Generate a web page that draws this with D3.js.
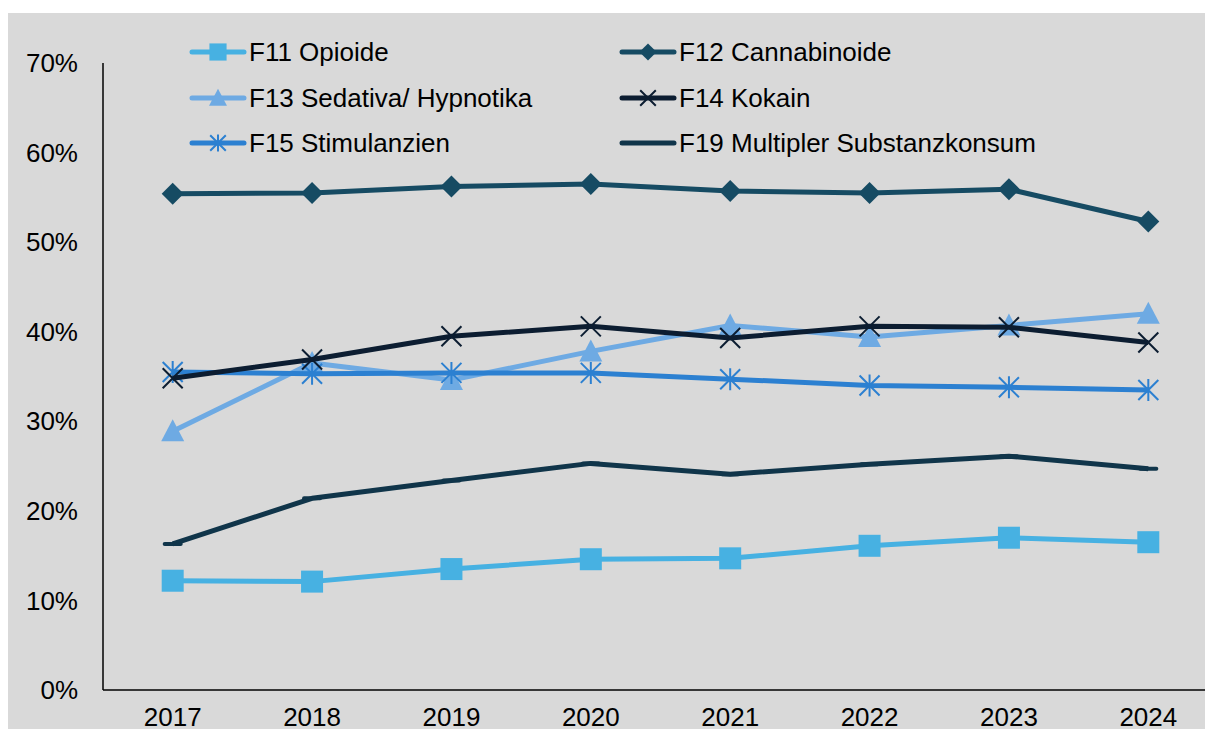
<!DOCTYPE html>
<html>
<head>
<meta charset="utf-8">
<script src="https://cdn.jsdelivr.net/npm/d3@7"></script>
<style>
  body { margin: 0; background: #fff; }
  svg text { font-family: "Liberation Sans", Arial, sans-serif; fill: #000; }
</style>
</head>
<body>
<div id="chart"></div>
<script>
var years = ["2017", "2018", "2019", "2020", "2021", "2022", "2023", "2024"];
var yTicks = [0, 10, 20, 30, 40, 50, 60, 70];

var f11 = [12.2, 12.1, 13.5, 14.6, 14.7, 16.1, 17.0, 16.5];
var f12 = [55.4, 55.5, 56.2, 56.5, 55.7, 55.5, 55.9, 52.3];
var f13 = [28.9, 36.5, 34.6, 37.8, 40.7, 39.4, 40.7, 42.0];
var f14 = [34.8, 36.9, 39.5, 40.6, 39.3, 40.6, 40.5, 38.8];
var f15 = [35.5, 35.3, 35.4, 35.4, 34.7, 34.0, 33.8, 33.5];
var f19 = [16.3, 21.4, 23.4, 25.3, 24.1, 25.2, 26.1, 24.7];

var seriesNames = ["F11 Opioide", "F12 Cannabinoide", "F13 Sedativa/ Hypnotika",
  "F14 Kokain", "F15 Stimulanzien", "F19 Multipler Substanzkonsum"];

var series = [
  {name: seriesNames[0], values: f11, color: "#47b1e2", marker: "square"},
  {name: seriesNames[1], values: f12, color: "#164b63", marker: "diamond"},
  {name: seriesNames[2], values: f13, color: "#6eaae3", marker: "triangle"},
  {name: seriesNames[3], values: f14, color: "#0c1d31", marker: "cross"},
  {name: seriesNames[4], values: f15, color: "#2c80d1", marker: "star"},
  {name: seriesNames[5], values: f19, color: "#10354a", marker: "dash"}
];
// draw order (back to front)
var drawOrder = [5, 0, 1, 2, 4, 3];

var W = 1205, H = 729;
var svg = d3.select("#chart").append("svg")
  .attr("width", W).attr("height", H);

svg.append("rect")
  .attr("x", 8).attr("y", 13)
  .attr("width", W - 8).attr("height", H - 13)
  .attr("fill", "#d9d9d9");

var x = d3.scalePoint()
  .domain(years)
  .range([103, 1218])
  .padding(0.5);

var y = d3.scaleLinear()
  .domain([0, 70])
  .range([690, 63]);

// y axis
var yAxis = svg.append("g").attr("transform", "translate(103,0)");
yAxis.append("line")
  .attr("x1", 0).attr("x2", 0)
  .attr("y1", y(70)).attr("y2", y(0))
  .attr("stroke", "#000").attr("stroke-width", 1.5);
yAxis.selectAll("text")
  .data(yTicks)
  .enter().append("text")
  .attr("x", -25)
  .attr("y", function(d) { return y(d); })
  .attr("dy", "0.35em")
  .attr("text-anchor", "end")
  .style("font-size", "26px")
  .text(function(d) { return d + "%"; });

// x axis
svg.append("line")
  .attr("x1", 103).attr("x2", W)
  .attr("y1", y(0)).attr("y2", y(0))
  .attr("stroke", "#000").attr("stroke-width", 1.5);
svg.selectAll(".xlab")
  .data(years)
  .enter().append("text")
  .attr("class", "xlab")
  .attr("x", function(d) { return x(d); })
  .attr("y", 726)
  .attr("text-anchor", "middle")
  .style("font-size", "26px")
  .text(function(d) { return d; });

function drawMarker(g, type, color, cx, cy, s) {
  s = s || 1;
  if (type == "square") {
    g.append("rect")
      .attr("x", cx - 11 * s).attr("y", cy - 11 * s)
      .attr("width", 22 * s).attr("height", 22 * s)
      .attr("fill", color);
  } else if (type == "diamond") {
    g.append("path")
      .attr("d", "M" + cx + "," + (cy - 11 * s) + "L" + (cx + 11 * s) + "," + cy +
        "L" + cx + "," + (cy + 11 * s) + "L" + (cx - 11 * s) + "," + cy + "Z")
      .attr("fill", color);
  } else if (type == "triangle") {
    g.append("path")
      .attr("d", "M" + cx + "," + (cy - 12 * s) + "L" + (cx + 11.5 * s) + "," + (cy + 10 * s) +
        "L" + (cx - 11.5 * s) + "," + (cy + 10 * s) + "Z")
      .attr("fill", color);
  } else if (type == "cross") {
    g.append("path")
      .attr("d", "M" + (cx - 10 * s) + "," + (cy - 10 * s) + "L" + (cx + 10 * s) + "," + (cy + 10 * s) +
        "M" + (cx + 10 * s) + "," + (cy - 10 * s) + "L" + (cx - 10 * s) + "," + (cy + 10 * s))
      .attr("stroke", color).attr("stroke-width", 2).attr("fill", "none");
  } else if (type == "star") {
    g.append("path")
      .attr("d", "M" + (cx - 10 * s) + "," + (cy - 10 * s) + "L" + (cx + 10 * s) + "," + (cy + 10 * s) +
        "M" + (cx + 10 * s) + "," + (cy - 10 * s) + "L" + (cx - 10 * s) + "," + (cy + 10 * s) +
        "M" + cx + "," + (cy - 11 * s) + "L" + cx + "," + (cy + 11 * s))
      .attr("stroke", color).attr("stroke-width", 2).attr("fill", "none");
  } else if (type == "dash") {
    g.append("line")
      .attr("x1", cx - 8 * s).attr("x2", cx + 8 * s)
      .attr("y1", cy).attr("y2", cy)
      .attr("stroke", color).attr("stroke-width", 4)
      .attr("stroke-linecap", "round");
  }
}

var line = d3.line()
  .x(function(d, i) { return x(years[i]); })
  .y(function(d) { return y(d); });

drawOrder.forEach(function(k) {
  var s = series[k];
  var g = svg.append("g");
  g.append("path")
    .attr("d", line(s.values))
    .attr("fill", "none")
    .attr("stroke", s.color)
    .attr("stroke-width", 5)
    .attr("stroke-linejoin", "round");
  s.values.forEach(function(v, i) {
    drawMarker(g, s.marker, s.color, x(years[i]), y(v));
  });
});

// legend
var legendPos = [
  {x: 190, y: 52}, {x: 620, y: 52},
  {x: 190, y: 98}, {x: 620, y: 98},
  {x: 190, y: 143}, {x: 620, y: 143}
];
series.forEach(function(s, i) {
  var p = legendPos[i];
  var g = svg.append("g");
  g.append("line")
    .attr("x1", p.x + 2).attr("x2", p.x + 54)
    .attr("y1", p.y).attr("y2", p.y)
    .attr("stroke", s.color).attr("stroke-width", 5)
    .attr("stroke-linecap", "round");
  if (s.marker != "dash") {
    drawMarker(g, s.marker, s.color, p.x + 28, p.y, 0.78);
  }
  g.append("text")
    .attr("x", p.x + 59)
    .attr("y", p.y)
    .attr("dy", "0.35em")
    .style("font-size", "26px")
    .text(s.name);
});
</script>
</body>
</html>
